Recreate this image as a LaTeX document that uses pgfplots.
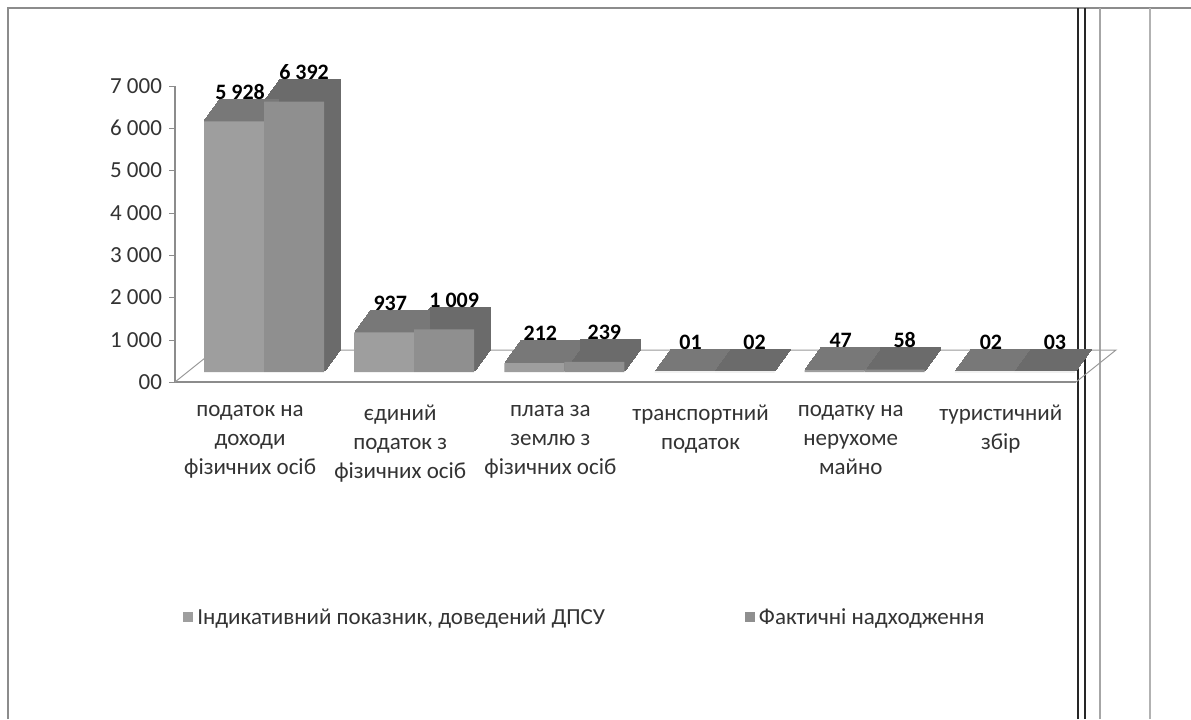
\documentclass[border=0pt]{standalone}
\usepackage{fontspec}
\setmainfont{Carlito}
\usepackage{pgfplots}
\usepackage{pgfplotstable}
\pgfplotsset{compat=1.18}
\definecolor{frontA}{gray}{0.62}
\definecolor{frontB}{gray}{0.56}
\definecolor{depthA}{gray}{0.47}
\definecolor{depthB}{gray}{0.42}
\pgfplotstableread[col sep=comma]{
x,y,label
0,5928,5 928
1,937,937
2,212,212
3,1,01
4,47,47
5,2,02
}\tabA
\pgfplotstableread[col sep=comma]{
x,y,label
0,6392,6 392
1,1009,1 009
2,239,239
3,2,02
4,58,58
5,3,03
}\tabB
\begin{document}
\begin{tikzpicture}
\path[use as bounding box] (0,0) rectangle (595.5pt,359.5pt);
\fill[white] (0,0) rectangle (595.5pt,359.5pt);
% frame / scan lines
\draw[black!45, line width=0.8pt] (4pt,0) -- (4pt,355.5pt) -- (595.5pt,355.5pt);
\draw[black!85, line width=0.9pt] (539pt,0) -- (539pt,355.5pt);
\draw[black!85, line width=0.9pt] (542.5pt,0) -- (542.5pt,355.5pt);
\draw[black!35, line width=0.6pt] (550pt,0) -- (550pt,355.5pt);
\draw[black!30, line width=0.6pt] (575pt,0) -- (575pt,355.5pt);
\begin{axis}[
  at={(87.5pt,168.5pt)}, anchor=south west,
  scale only axis, width=450.5pt, height=148pt,
  xmin=-0.5, xmax=5.5, ymin=0, ymax=7000,
  axis x line=bottom, axis y line=left,
  axis line style={black!45, line width=0.6pt, -},
  ytick={0,1000,...,7000},
  yticklabels={00,1 000,2 000,3 000,4 000,5 000,6 000,7 000},
  ytick style={black!45},
  tick align=outside, major tick length=3pt,
  xtick={0,...,5},
  xtick style={draw=none},
  minor xtick={0.5,1.5,2.5,3.5,4.5},
  minor tick length=3pt,
  minor x tick style={black!45},
  xticklabels={{податок на\\доходи\\фізичних осіб},{єдиний\\податок з\\фізичних осіб},{плата за\\землю з\\фізичних осіб},{транспортний\\податок},{податку на\\нерухоме\\майно},{туристичний\\збір}},
  xticklabel style={align=center, font=\fontsize{11.5}{14.5}\selectfont, text=black!80, yshift=-5pt},
  yticklabel style={font=\fontsize{11.5}{14}\selectfont, text=black!80},
  ybar, bar width=30pt,
  legend style={at={(0.456,-0.797)}, anchor=center, draw=none, legend columns=2,
    font=\fontsize{11.5}{14}\selectfont, text=black!80,
    /tikz/every even column/.append style={column sep=68pt}},
  legend image code/.code={\fill[#1] (0pt,-7pt) rectangle (5pt,-2pt);},
  clip=false,
]
% floor
\draw[black!40, line width=0.5pt] (axis cs:-0.5,0) -- ([shift={(20pt,16pt)}]axis cs:-0.5,0) -- ([shift={(20pt,16pt)}]axis cs:5.5,0) -- (axis cs:5.5,0);
% depth extrusions
\pgfplotsinvokeforeach{1,2,3,4,5,6,7,8,9,10,11,12,13,14,15,16}{
  \addplot[forget plot, fill=depthA, draw=depthA, line width=0.7pt, bar shift=-15pt, xshift={7pt+#1*0.5pt}, yshift={5pt+#1*0.6875pt}] table[x=x,y=y] {\tabA};
  \addplot[forget plot, fill=depthB, draw=depthB, line width=0.7pt, bar shift=15pt, xshift={7pt+#1*0.5pt}, yshift={5pt+#1*0.6875pt}] table[x=x,y=y] {\tabB};
}
\addplot[fill=frontA, draw=none, bar shift=-15pt, xshift=7pt, yshift=5pt,
  nodes near coords, point meta=explicit symbolic,
  every node near coord/.append style={font=\bfseries\fontsize{11}{13}\selectfont, text=black, anchor=south, xshift=3pt, yshift=7.5pt}]
  table[x=x,y=y,meta=label] {\tabA};
\addlegendentry{Індикативний показник, доведений ДПСУ}
\addplot[fill=frontB, draw=none, bar shift=15pt, xshift=7pt, yshift=5pt,
  nodes near coords, point meta=explicit symbolic,
  every node near coord/.append style={font=\bfseries\fontsize{11}{13}\selectfont, text=black, anchor=south, xshift=5pt, yshift=7.5pt}]
  table[x=x,y=y,meta=label] {\tabB};
\addlegendentry{Фактичні надходження}
\end{axis}
\end{tikzpicture}
\end{document}
